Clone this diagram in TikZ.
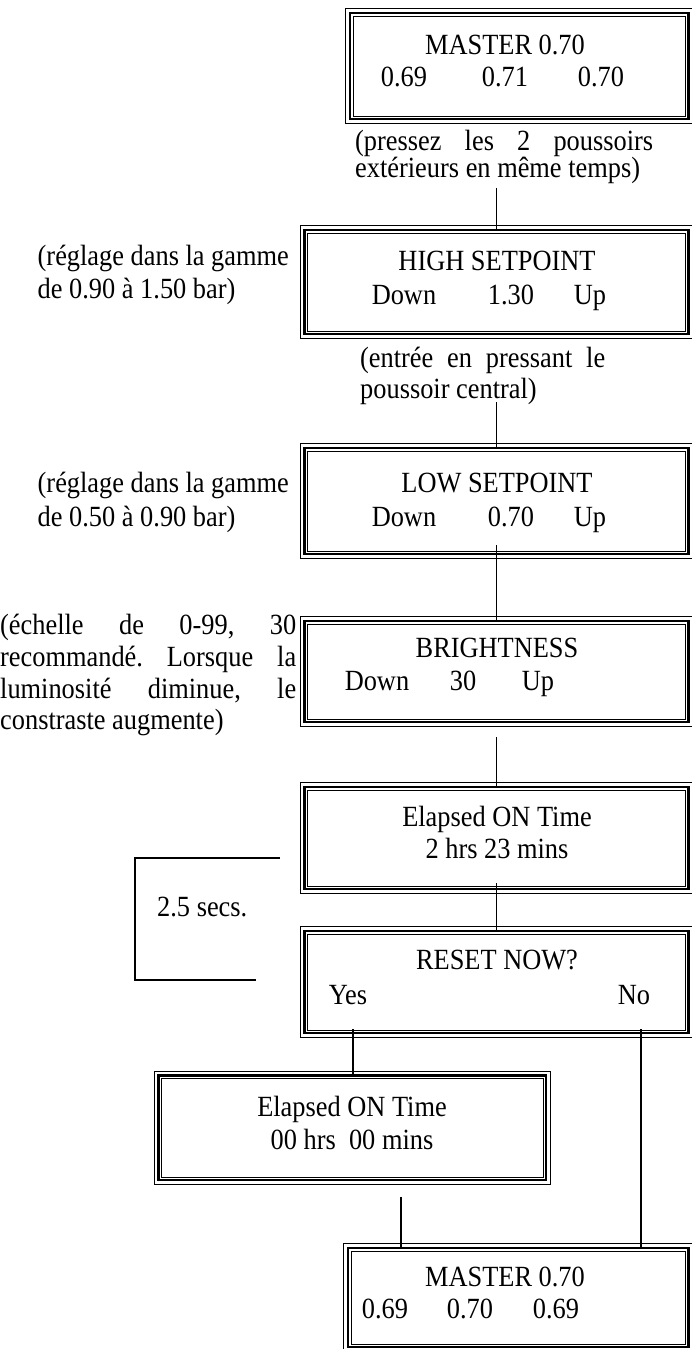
\documentclass[tikz,border=0pt]{standalone}
\usepackage{fontspec}
\setmainfont{Liberation Serif}[FakeStretch=0.9]
\newcommand\fs{\fontsize{29.3}{32}\selectfont}
\newcommand\TriBox[5]{%
  \node[thickbox, minimum width={#4-#2-6}, minimum height={#5-#3-6}] (#1) at ({(#2+#4)/2},{(#3+#5)/2}) {};
  \draw[thinframe] ([shift={(-3,-3)}]#1.north west) rectangle ([shift={(3,3)}]#1.south east);
  \draw[thinframe] ([shift={(4.3,4.3)}]#1.north west) rectangle ([shift={(-4.3,-4.3)}]#1.south east);
}
\begin{document}
\begin{tikzpicture}[x=1pt, y=-1pt,
  thickbox/.style={draw, line width=2.6pt, inner sep=0pt},
  thinframe/.style={line width=0.9pt},
  conn/.style={line width=1.3pt},
  bracketline/.style={line width=1.5pt},
  txt/.style={font=\fs, inner sep=0pt, text height=19.4pt, text depth=0pt},
  note/.style={txt, anchor=west}]
\fill[white] (0,0) rectangle (692,1349);
\useasboundingbox (0,0) rectangle (692,1349);

% ---- boxes
\TriBox{ma}{347}{10}{691.5}{122}
\TriBox{hs}{301.5}{227}{691.5}{337}
\TriBox{lo}{301.5}{445}{691.5}{557}
\TriBox{br}{301.5}{618}{691.5}{725}
\TriBox{el}{301.5}{784}{691.5}{892}
\TriBox{rs}{301.5}{928}{691.5}{1036}
\TriBox{zz}{155.5}{1072.5}{549}{1183}
\TriBox{mb}{345}{1245}{691.5}{1350}

% ---- box texts
\node[txt] (ma1) at (505,45) {MASTER 0.70};
\node[txt] (ma2) at (404,77) {0.69};
\node[txt] (ma3) at (505,77) {0.71};
\node[txt] (ma4) at (601,77) {0.70};

\node[txt] (hs1) at (497,261) {HIGH SETPOINT};
\node[txt] (hs2) at (404,295) {Down};
\node[txt] (hs3) at (511,295) {1.30};
\node[txt] (hs4) at (590,295) {Up};

\node[txt] (lo1) at (497,483) {LOW SETPOINT};
\node[txt] (lo2) at (404,517) {Down};
\node[txt] (lo3) at (511,517) {0.70};
\node[txt] (lo4) at (590,517) {Up};

\node[txt] (br1) at (497,648) {BRIGHTNESS};
\node[txt] (br2) at (377,681) {Down};
\node[txt] (br3) at (463,681) {30};
\node[txt] (br4) at (538,681) {Up};

\node[txt] (el1) at (497,817) {Elapsed ON Time};
\node[txt] (el2) at (497,849) {2 hrs 23 mins};

\node[txt] (rs1) at (497,960) {RESET NOW?};
\node[txt] (rs2) at (348,995) {Yes};
\node[txt] (rs3) at (634,995) {No};

\node[txt] (zz1) at (352,1107) {Elapsed ON Time};
\node[txt] (zz2) at (352,1140) {00 hrs\ \ 00 mins};

\node[txt] (mb1) at (505,1277) {MASTER 0.70};
\node[txt] (mb2) at (385,1309) {0.69};
\node[txt] (mb3) at (470,1309) {0.70};
\node[txt] (mb4) at (556,1309) {0.69};

% ---- notes
\node[note] (n1) at (355,141) {\hbox to 298pt{(pressez\hfill les\hfill 2\hfill poussoirs}};
\node[note] (n2) at (355,168) {extérieurs en même temps)};
\node[note] (n3) at (37.5,256) {(réglage dans la gamme};
\node[note] (n4) at (37.5,289) {de 0.90 à 1.50 bar)};
\node[note] (n5) at (360,358) {\hbox to 245pt{(entrée\hfill en\hfill pressant\hfill le}};
\node[note] (n6) at (360,389) {poussoir central)};
\node[note] (n7) at (37.5,483) {(réglage dans la gamme};
\node[note] (n8) at (37.5,517) {de 0.50 à 0.90 bar)};
\node[note] (n9) at (0,625) {\hbox to 296pt{(échelle\hfill de\hfill 0-99,\hfill 30}};
\node[note] (n10) at (0,657) {\hbox to 296pt{recommandé.\hfill Lorsque\hfill la}};
\node[note] (n11) at (0,689) {\hbox to 296pt{luminosité\hfill diminue,\hfill le}};
\node[note] (n12) at (0,720) {constraste augmente)};

% ---- bracket
\coordinate (bt) at (280,858);
\coordinate (btl) at (135,858);
\coordinate (bbl) at (135,980);
\coordinate (bb) at (256,980);
\draw[bracketline] (bt) -- (btl) -- (bbl) -- (bb);
\node[note] (secs) at (157,907) {2.5 secs.};

% ---- connectors
\coordinate (c1) at (496.5,188);
\coordinate (c2) at (496.5,402);
\coordinate (c4) at (496.5,737);
\coordinate (yx) at (353,0);
\coordinate (nx) at (641,0);
\coordinate (c8) at (401,1197);
\draw[conn] (c1) -- (hs.north);
\draw[conn] (c2) -- (lo.north);
\draw[conn] ([yshift=10pt]lo.south) -- (br.north);
\draw[conn] (c4) -- (el.north);
\draw[conn] ([yshift=7pt]el.south) -- (rs.north);
\draw[conn] ([yshift=5pt]rs.south -| yx) -- (zz.north -| yx);
\draw[conn] ([yshift=5pt]rs.south -| nx) -- (mb.north -| nx);
\draw[conn] (c8) -- (mb.north -| c8);
\end{tikzpicture}
\end{document}
